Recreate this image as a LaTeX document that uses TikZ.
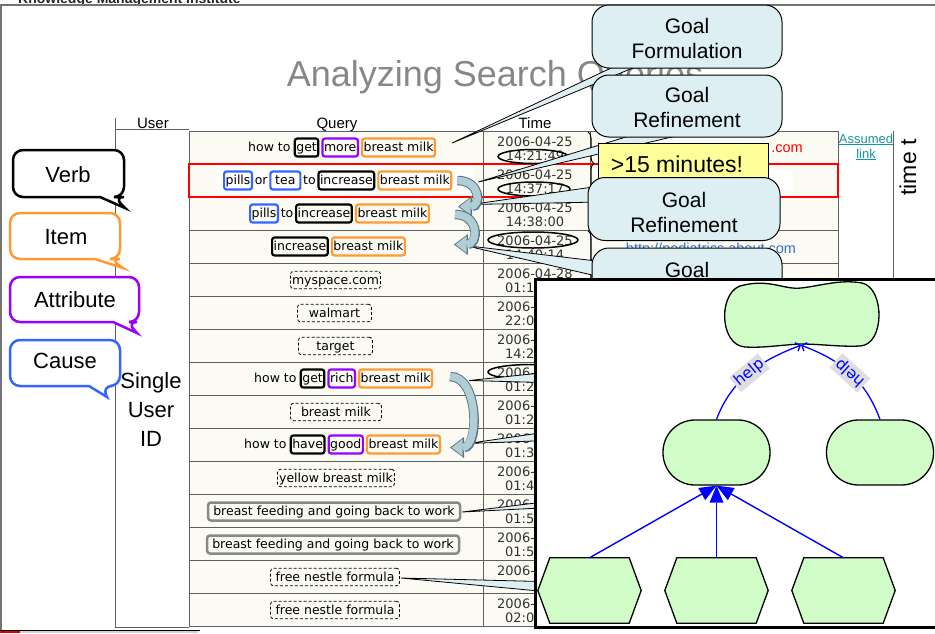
\documentclass[tikz,border=0pt]{standalone}
\usepackage{fontspec}
\setmainfont{Liberation Sans}
\newfontfamily\verd{DejaVu Sans}
\usetikzlibrary{arrows.meta,positioning,decorations.pathreplacing,calc}
\definecolor{cream}{RGB}{252,251,243}
\definecolor{rowline}{RGB}{95,95,95}
\definecolor{kworange}{RGB}{255,153,51}
\definecolor{kwpurple}{RGB}{153,0,255}
\definecolor{kwblue}{RGB}{51,102,255}
\definecolor{kwgray}{RGB}{136,136,136}
\definecolor{calloutfill}{RGB}{221,239,242}
\definecolor{yellowbox}{RGB}{255,255,153}
\definecolor{goalgreen}{RGB}{208,252,200}
\definecolor{arrowfill}{RGB}{176,206,214}
\definecolor{arrowedge}{RGB}{90,115,125}
\definecolor{titlegray}{RGB}{135,135,135}
\definecolor{urlblue}{RGB}{51,110,210}
\definecolor{linkteal}{RGB}{20,150,160}
\definecolor{helpbg}{RGB}{222,222,222}
\definecolor{timetext}{RGB}{50,50,50}
\tikzset{
  qt/.style={font=\verd\fontsize{12.5}{14}\selectfont, inner xsep=1.5pt, inner ysep=2.75pt, text height=10.5pt, text depth=2pt},
  plain/.style={qt, inner xsep=1pt},
  kw/.style={qt, draw=#1, line width=2.2pt, rounded corners=2.5pt},
  dbox/.style={qt, draw=black, line width=0.8pt, dash pattern=on 3pt off 2pt, rounded corners=3pt, inner ysep=2.5pt},
  gbox/.style={qt, draw=kwgray, line width=2.5pt, rounded corners=3pt},
  tm/.style={font=\verd\fontsize{13}{15}\selectfont, inner sep=0pt, text=timetext},
  hdr/.style={font=\fontsize{15}{17}\selectfont, inner sep=0pt, anchor=base},
  grid/.style={draw=rowline, line width=0.9pt},
  timeell/.style={draw=black, line width=1.5pt},
  calloutbox/.style={draw=black, line width=1pt, fill=calloutfill, rounded corners=17pt, inner sep=0pt},
  ctext/.style={font=\fontsize{21}{25}\selectfont, inner sep=0pt, anchor=base},
  tail/.style={draw=black, line width=0.8pt, fill=calloutfill, line join=miter},
  blockout/.style={draw=arrowedge, line width=9.5pt, -{Triangle[width=21pt,length=14pt,line width=0pt]}},
  blockin/.style={draw=arrowfill, line width=7.5pt, shorten >=1.6pt, -{Triangle[width=17pt,length=11pt,line width=0pt]}},
  bubble/.style={draw=#1, line width=2.5pt, fill=white, rounded corners=10pt},
  btext/.style={font=\fontsize{22}{26}\selectfont, inner sep=0pt, anchor=base},
  gfill/.style={draw=black, line width=1.3pt, fill=goalgreen},
  stad/.style={gfill, rounded corners=32pt, minimum width=107pt, minimum height=65pt, inner sep=0pt},
  hexbox/.style={minimum width=103pt, minimum height=65pt, inner sep=0pt},
  andarrow/.style={draw=blue, line width=1.4pt, -{Triangle[length=17pt,width=14pt,line width=0pt]}},
  helpline/.style={draw=blue, line width=1.3pt, -{Straight Barb[length=4pt,width=9pt]}},
  helplabel/.style={fill=helpbg, text=blue, font=\verd\fontsize{15.5}{17}\selectfont, inner xsep=2pt, inner ysep=2pt},
}
\begin{document}
\begin{tikzpicture}[x=1pt,y=-1pt]
\useasboundingbox (0,0) rectangle (935,633);
% ---------- slide frame ----------
\node[font=\bfseries\fontsize{14}{16}\selectfont, anchor=base west, inner sep=0pt, text=black!85] (kmi) at (18,3) {Knowledge Management Institute};
\draw[draw=black!55, line width=1.6pt] (0,5) -- (935,5);
\draw[draw=black!55, line width=1.2pt] (1,5) -- (1,630);
\draw[black, line width=0.8pt] (0,630.5) -- (200,630.5);
\fill[red!85!black] (0,631) rectangle (20,633);
\fill[black!18] (20,631) rectangle (198,633);
% ---------- title ----------
\node[font=\fontsize{36}{40}\selectfont, text=titlegray, anchor=base, inner sep=0pt] (title) at (495,86) {Analyzing Search Queries};
% ---------- table ----------
\fill[cream] (189,131) rectangle (838,626);
\fill[white] (217,166) rectangle (473,194);
\fill[white] (600,171) rectangle (793,191);
\foreach \k in {0,...,15} \draw[grid] (189,{131+33*\k}) -- (838,{131+33*\k});
\foreach \xx in {189,483,590,838,893} \draw[grid] (\xx,131) -- (\xx,626);
\draw[grid] (115,129) -- (189,129);
\draw[grid] (115,118) -- (115,627) -- (189,627);
\draw[red, line width=1.2pt] (189,164) rectangle (838,197);
\node[hdr] (huser) at (153,128) {User};
\node[hdr] (hquery) at (337,128) {Query};
\node[hdr] (htime) at (535,128) {Time};
\node[btext] (su1) at (151,388) {Single};
\node[btext] (su2) at (151,417) {User};
\node[btext] (su3) at (151,446) {ID};
% queries
\node[plain, anchor=west] (q1a) at (247,147.5) {how to};
\node[kw=black, right=2pt of q1a] (q1b) {get};
\node[kw=kwpurple, right=2pt of q1b] (q1c) {more};
\node[kw=kworange, right=2pt of q1c] (q1d) {breast milk};
\node[kw=kwblue, anchor=west] (q2a) at (223,180.5) {pills};
\node[plain, inner xsep=0.5pt, right=1pt of q2a] (q2b) {or};
\node[kw=kwblue, minimum width=30pt, right=1pt of q2b] (q2c) {tea};
\node[plain, inner xsep=0.5pt, right=1pt of q2c] (q2d) {to};
\node[kw=black, right=1pt of q2d] (q2f) {increase};
\node[kw=kworange, right=2pt of q2f] (q2e) {breast milk};
\node[kw=kwblue, anchor=west] (q3a) at (249,213.5) {pills};
\node[plain, inner xsep=0.5pt, right=1pt of q3a] (q3b) {to};
\node[kw=black, right=1pt of q3b] (q3c) {increase};
\node[kw=kworange, right=2pt of q3c] (q3e) {breast milk};
\node[kw=black, anchor=west] (q4a) at (271,246.5) {increase};
\node[kw=kworange, right=2pt of q4a] (q4e) {breast milk};
\node[dbox, minimum width=90pt] (q5) at (335.5,280) {myspace.com};
\node[dbox, minimum width=74pt] (q6) at (334.5,313) {walmart};
\node[dbox, minimum width=74pt] (q7) at (335.5,346) {target};
\node[plain, anchor=west] (q8a) at (253,378.5) {how to};
\node[kw=black, right=2pt of q8a] (q8b) {get};
\node[kw=kwpurple, right=2pt of q8b] (q8c) {rich};
\node[kw=kworange, right=2pt of q8c] (q8e) {breast milk};
\node[dbox, minimum width=91pt] (q9) at (336,412) {breast milk};
\node[plain, anchor=west] (q10a) at (243,444.5) {how to};
\node[kw=black, right=2pt of q10a] (q10b) {have};
\node[kw=kwpurple, right=2pt of q10b] (q10c) {good};
\node[kw=kworange, right=2pt of q10c] (q10e) {breast milk};
\node[dbox, minimum width=117pt] (q11) at (336,478) {yellow breast milk};
\node[gbox, minimum width=252pt] (q12) at (334,511.5) {breast feeding and going back to work};
\node[gbox, minimum width=252pt] (q13) at (333,544.5) {breast feeding and going back to work};
\node[dbox, minimum width=129pt] (q14) at (335,577) {free nestle formula};
\node[dbox, minimum width=129pt] (q15) at (335,610) {free nestle formula};
% times
\node[tm] (t1d) at (535,142) {2006-04-25};
\node[tm] (t1t) at (535,156) {14:21:49};
\node[tm] (t2d) at (535,175) {2006-04-25};
\node[tm] (t2t) at (535,189) {14:37:17};
\node[tm] (t3d) at (535,208) {2006-04-25};
\node[tm] (t3t) at (535,222) {14:38:00};
\node[tm] (t4d) at (535,241) {2006-04-25};
\node[tm] (t4t) at (535,255) {14:40:14};
\node[tm] (t5d) at (535,274) {2006-04-28};
\node[tm, anchor=west] (t5t) at (505,288) {01:1};
\foreach \k/\tt in {6/22:0,7/14:2,8/01:2,9/01:2,10/01:3,11/01:4,12/01:5,13/01:5,15/02:0}{
  \node[tm, anchor=west] (td\k) at (497,{131+33*(\k-1)+11}) {2006-};
  \node[tm, anchor=west] (tt\k) at (505,{131+33*(\k-1)+25}) {\tt};
}
\node[tm, anchor=west] (td14) at (497,571) {2006-};
\draw[timeell] (533,156.5) ellipse [x radius=35, y radius=7];
\draw[timeell] (534,189) ellipse [x radius=36, y radius=7];
\draw[timeell] (533,240) ellipse [x radius=45, y radius=8];
\draw[timeell] (531,372) ellipse [x radius=43, y radius=7.5];
% urls and right columns
\node[font=\fontsize{14.5}{16}\selectfont, text=red, anchor=base east, inner sep=0pt] (url1) at (803,152) {.com};
\node[font=\fontsize{14.5}{16}\selectfont, text=urlblue, anchor=base, inner sep=0pt] (url4) at (711,253) {http://pediatrics.about.com};
\node[font=\fontsize{13}{15}\selectfont, text=linkteal, anchor=base, inner sep=0pt] (al1) at (866,143) {\underline{Assumed}};
\node[font=\fontsize{13}{15}\selectfont, text=linkteal, anchor=base, inner sep=0pt] (al2) at (866,158) {\underline{link}};
\node[font=\fontsize{23}{26}\selectfont, rotate=90, inner sep=0pt] (timet) at (908,167.5) {time t};
% braces
\draw[decorate, decoration={brace, amplitude=6pt}, line width=1pt] (588,132) -- (588,195);
\draw[decorate, decoration={brace, amplitude=6pt}, line width=1pt] (588,231) -- (588,297);
% ---------- callout tails ----------
\draw[tail] ($(q1d.east)+(16,-4.5)$) -- (628,60) -- (652,60) -- cycle;
\draw[tail] ($(q2e.east)+(26,1.5)$) -- (639,133) -- (689,133) -- cycle;
\draw[tail] ($(q3e.east)+(41,-9)$) -- (600,186) -- (600,202) -- cycle;
\draw[tail] ($(q4e.east)+(59,-1)$) -- (605,262) -- (605,278) -- cycle;
\draw[tail] ($(q8e.east)+(36,2)$) -- (560,371) -- (560,383) -- cycle;
\draw[tail] ($(q10e.east)+(27,-1)$) -- (560,430) -- (560,440) -- cycle;
\draw[tail] ($(q12.east)+(1,0.5)$) -- (560,500) -- (560,507) -- cycle;
\draw[tail] ($(q14.east)+(1,1)$) -- (560,582) -- (560,593) -- cycle;
% ---------- block arrows ----------
\coordinate (a1s) at ($(q2e.east)+(5,0)$);
\coordinate (a1e) at ($(q3e.east)+(28,-7)$);
\coordinate (a2s) at ($(q3e.east)+(25,1)$);
\coordinate (a2e) at ($(q4e.east)+(48,-2)$);
\coordinate (a3s) at ($(q8e.east)+(17,-2)$);
\coordinate (a3e) at ($(q10e.east)+(9,3)$);
\foreach \s/\e/\l in {a1s/a1e/2.3,a2s/a2e/2.1,a3s/a3e/1.05}{
  \draw[blockout] (\s) to[out=0,in=0,looseness=\l] (\e);
  \draw[blockin] (\s) to[out=0,in=0,looseness=\l] (\e);
}
% ---------- callouts ----------
\node[calloutbox, minimum width=190pt, minimum height=63pt] (c1) at (687,36.5) {};
\node[ctext] (c1a) at (687,33) {Goal};
\node[ctext] (c1b) at (687,58) {Formulation};
\node[calloutbox, minimum width=190pt, minimum height=62pt] (c2) at (687,106) {};
\node[ctext] (c2a) at (687,102) {Goal};
\node[ctext] (c2b) at (687,127) {Refinement};
\node[draw=black, line width=0.8pt, fill=yellowbox, minimum width=170pt, minimum height=43pt, inner sep=0pt] (late) at (683,164.5) {};
\node[font=\fontsize{23}{26}\selectfont, anchor=base, inner sep=0pt] (latet) at (677,172) {>15 minutes!};
\node[calloutbox, minimum width=192pt, minimum height=63pt] (c3) at (684,209) {};
\node[ctext] (c3a) at (684,207) {Goal};
\node[ctext] (c3b) at (684,232) {Refinement};
\node[calloutbox, minimum width=190pt, minimum height=63pt] (c4) at (687,279.5) {};
\node[ctext] (c4a) at (687,277) {Goal};
% ---------- inset ----------
\draw[line width=3pt, fill=white] (535,279) rectangle (945,627);
\node[inner sep=0pt, minimum width=152pt, minimum height=62pt] (goal) at (801,314) {};
\draw[gfill] (744,285) .. controls (770,279) and (785,290) .. (801,288)
  .. controls (820,286) and (840,279) .. (862,283)
  .. controls (885,288) and (885,345) .. (860,346)
  .. controls (840,347) and (820,344) .. (801,344)
  .. controls (780,345) and (765,348) .. (745,347)
  .. controls (718,345) and (718,288) .. (744,285) -- cycle;
\node[stad] (m1) at (716.5,452.5) {};
\node[stad] (m2) at (880,452.5) {};
\foreach \n/\xx in {h1/589.5,h2/716.5,h3/843.5}{
  \node[hexbox] (\n) at (\xx,590.5) {};
  \draw[gfill] (\n.west) -- ([xshift=12pt]\n.north west) -- ([xshift=-12pt]\n.north east) -- (\n.east) -- ([xshift=-12pt]\n.south east) -- ([xshift=12pt]\n.south west) -- cycle;
}
\draw[andarrow] (h1.north) -- (m1.south);
\draw[andarrow] (h2.north) -- (m1.south);
\draw[andarrow] (h3.north) -- (m1.south);
\draw[helpline] (m1.north) .. controls +(15,-40) and +(-40,15) .. node[helplabel, pos=0.5, sloped] {help} (goal.south);
\draw[helpline] (m2.north) .. controls +(-15,-40) and +(40,15) .. node[helplabel, pos=0.5, sloped, allow upside down] {help} (goal.south);
% ---------- legend bubbles ----------
\draw[bubble=black] (60,150) -- (124,150) -- (124,197) -- (114,197) [sharp corners] -- (125,208) -- (100,197) [rounded corners=10pt] -- (13,197) -- (13,150) -- cycle;
\node[btext] (verb) at (68,182) {Verb};
\draw[bubble=kworange] (60,213) -- (120,213) -- (120,259) -- (110,259) [sharp corners] -- (123,268) -- (95,259) [rounded corners=10pt] -- (10,259) -- (10,213) -- cycle;
\node[btext] (item) at (66,244) {Item};
\draw[bubble=kwpurple] (60,277) -- (139,277) -- (139,322) -- (127,322) [sharp corners] -- (137,333) -- (113,322) [rounded corners=10pt] -- (10,322) -- (10,277) -- cycle;
\node[btext] (attr) at (75,307) {Attribute};
\draw[bubble=kwblue] (60,340) -- (120,340) -- (120,386) -- (102,386) [sharp corners] -- (107,397) -- (89,386) [rounded corners=10pt] -- (10,386) -- (10,340) -- cycle;
\node[btext] (cause) at (65,368) {Cause};
\end{tikzpicture}
\end{document}
